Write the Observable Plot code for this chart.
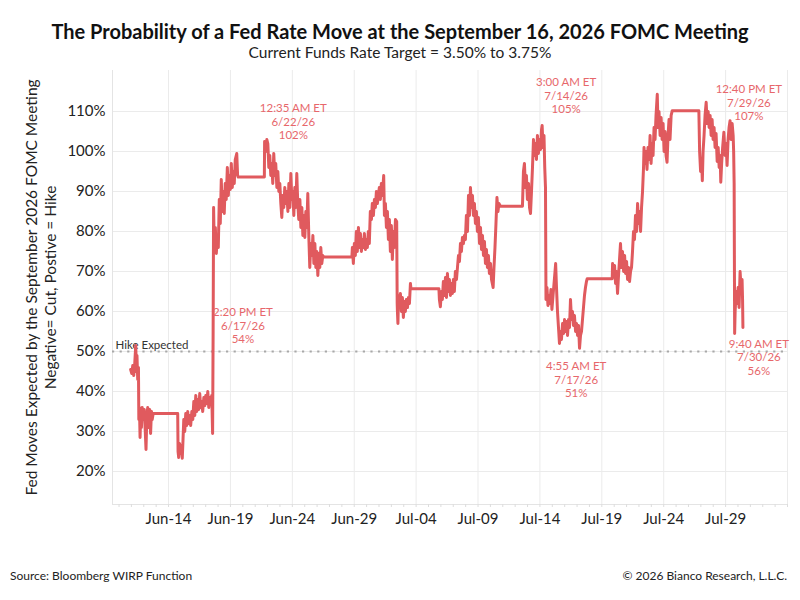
<!DOCTYPE html>
<html><head><meta charset="utf-8">
<script src="https://cdn.jsdelivr.net/npm/d3@7"></script>
<script src="https://cdn.jsdelivr.net/npm/@observablehq/plot@0.6"></script>
<style>
body{margin:0;background:#fff;font-family:Lato,sans-serif;}
#wrap{width:800px;height:600px;position:relative;overflow:hidden;}
#head{height:62px;text-align:center;}
#title{font-weight:bold;font-size:20px;padding-top:19px;line-height:24px;color:#111;}
#sub{font-size:15.5px;line-height:18px;color:#222;}
#chart svg{display:block;overflow:visible;}
#foot{display:flex;justify-content:space-between;padding:0 13px 0 10px;font-size:12px;line-height:14px;margin-top:29px;color:#222;}
</style></head>
<body><div id="wrap">
<div id="head"><div id="title">The Probability of a Fed Rate Move at the September 16, 2026 FOMC Meeting</div>
<div id="sub">Current Funds Rate Target = 3.50% to 3.75%</div></div>
<div id="chart"></div>
<div id="foot"><span>Source: Bloomberg WIRP Function</span><span>© 2026 Bianco Research, L.L.C.</span></div>
</div>
<script>
// time = day counted from June (June 1 = 1, July 1 = 31), fractional days
const times = [10.94,11.03,11.11,11.19,11.27,11.35,11.41,11.45,11.51,11.57,11.60,11.65,11.70,11.75,11.81,11.87,11.96,12.04,12.12,12.18,12.25,12.32,12.40,12.48,12.55,12.62,12.68,12.76,
14.74,14.77,14.82,14.89,14.95,15.03,15.11,15.17,15.23,15.31,15.39,15.47,15.55,15.63,15.71,15.79,15.88,15.96,16.04,16.12,16.20,16.28,16.36,16.44,16.52,16.60,16.68,16.76,16.85,16.93,17.01,17.09,17.17,17.25,17.33,17.41,17.49,17.56,
17.60,17.64,17.70,17.78,17.86,17.94,18.02,18.10,18.18,18.26,18.34,18.42,18.50,18.58,18.66,18.75,18.83,18.91,18.99,19.07,19.15,19.23,19.31,19.39,19.51,19.58,19.63,
21.74,21.76,21.86,21.94,22.02,22.10,22.18,22.26,22.34,22.42,22.50,22.58,22.66,22.75,22.83,22.91,22.99,23.07,23.15,23.23,23.31,23.39,23.47,23.55,23.64,23.72,23.80,23.88,23.96,24.04,24.12,24.20,24.28,24.36,24.44,24.52,24.61,24.69,24.77,24.85,24.93,25.01,25.09,25.17,25.25,25.33,25.41,25.49,25.58,25.66,25.74,25.82,25.90,25.98,26.06,26.14,26.22,26.30,26.38,26.46,26.55,
28.81,28.85,28.93,29.01,29.09,29.17,29.25,29.34,29.42,29.50,29.58,29.66,29.74,29.82,29.90,29.98,30.06,30.14,30.22,30.30,30.39,30.46,30.55,30.63,30.71,30.79,30.87,30.95,31.03,31.11,31.19,31.27,31.38,31.44,31.52,31.60,31.68,31.76,31.84,31.92,32.00,32.08,32.16,32.24,32.33,32.43,
32.47,32.49,32.53,32.58,32.65,32.73,32.81,32.89,32.97,33.05,33.13,33.21,33.30,33.38,33.46,33.54,33.58,
35.84,35.88,35.96,36.04,36.12,36.20,36.28,36.37,36.45,36.53,36.61,36.69,36.77,36.85,36.93,37.01,37.09,37.17,37.26,37.34,37.42,37.50,37.58,37.66,37.74,37.82,37.90,37.98,38.06,38.15,38.23,38.31,38.39,38.47,38.55,38.63,38.71,38.79,38.87,38.95,39.03,39.12,39.20,39.28,39.36,39.44,39.52,39.60,39.68,39.76,39.84,39.92,40.01,40.09,40.22,40.29,40.37,40.45,40.53,40.61,40.69,40.81,
42.59,42.67,42.75,42.83,42.91,42.99,43.08,43.16,43.24,43.32,43.40,43.48,43.56,43.64,43.72,43.80,43.88,43.97,44.05,44.13,44.18,44.25,44.33,44.39,44.45,
44.49,44.57,44.65,44.73,44.81,44.89,44.97,45.06,45.14,45.22,45.27,45.34,45.42,45.50,45.58,45.66,45.74,45.83,45.91,45.99,46.07,46.15,46.23,46.31,46.39,46.47,46.55,46.63,46.71,46.79,46.88,46.96,47.04,47.12,47.20,47.28,47.36,47.44,47.52,47.60,47.68,47.76,47.82,
49.84,49.87,49.95,50.03,50.11,50.19,50.27,50.35,50.43,50.51,50.59,50.67,50.76,50.84,50.92,51.00,51.08,51.16,51.24,51.32,51.40,51.48,51.56,51.64,51.72,51.81,51.89,51.97,52.05,52.13,52.21,52.29,52.37,52.41,52.49,52.57,52.65,52.73,52.82,52.90,52.98,53.06,53.14,53.22,53.30,53.38,53.48,53.54,53.62,53.71,53.79,53.87,53.95,54.03,54.11,54.19,54.27,54.35,54.43,54.51,54.60,54.69,
56.84,56.90,56.98,57.06,57.12,57.18,57.26,57.34,57.43,57.51,57.59,57.67,57.75,57.83,57.91,57.99,58.07,58.15,58.23,58.32,58.40,58.48,58.56,58.61,58.68,58.76,58.86,58.96,59.04,59.12,59.20,59.28,59.36,59.44,59.53,59.61,59.65,59.69,
59.73,59.77,59.85,59.93,60.01,60.09,60.17,60.25,60.33,60.37,60.40];
const probs = [45.5,44.5,46.5,44,47,51.5,45,49,43,46,33,36,28.5,34,31,36,33,35.5,30,25.5,34,36,31,35.5,29.5,35,33,34.5,
34.5,25,23.5,27,24.5,26.5,23.3,28,33,30,34.5,31.5,35,32,34,31.5,35,33,37.5,34,39,35,38,35.5,39.5,36,37.5,35,38.5,36.5,39,37,40,36,38.5,37.5,39,29.5,
54,86,75,81,74.5,79,76,88,82,93,85,90,84.5,92,88,96,89,94,90.5,97,91,95,92,98,99.5,94,93.6,
93.6,102.5,100,103,102,96,99,94,97,92,99.5,94,97,91,95,90,92,87,83.5,89,86,91,87,90,85,92,86,94.5,88,90,84,91,86,94.5,87,83,88,81,86,79,84,78.5,85,81,89.5,79,71,77,74,79,72,77,71,75,69,74.5,71,76,72,74,73.6,
73.6,76,72,77,74,80,75,81,76,79.5,75,78,76,79.5,75.5,78,76,80,77,85,83,87,84,88,86,90,87,89,91,88,92,89,94,84,87,81,85,78,83,75,81.5,73,80,76,83,82.5,
62,60,57,64,62,64.5,60,63.5,58.5,62.5,60,63,61,63.5,62,67,65.7,
65.7,63,61.2,65,63,67.5,64,68.5,63.5,69.5,65,68,64,67,64.5,68,65,70,68,71,74,72.5,77,75,78.5,77,79,78,84,80,89,84,91,86,89,84,87,82,85,80,83.5,77,81,75.5,79,74,77.5,72,75.5,71,74,69.5,72,68,66,71,76,82,88.5,85,87,86.3,
86.3,95,97,91,94,88,92,86,84.5,90,96,103,99,102,98,104,99.5,103,100.5,105.5,106.5,101,104,96,91,
63,66,61.5,64,62,65.5,60.5,64,67,70,72,66,60,56,52,55,53,57,54.5,58,55,57.5,54,58,56,63,58,60,56.5,59,55,57,54,56.5,50.8,54,55,58,61,64,66,67.5,68.2,
68.2,72,69,71.5,67,70,64.5,69,73,77,71,75,70,74,69.5,72.5,68,71,67.5,70,71,75,80,78,84,80,87,82,85,80,86,90,96,101,97,100,95.5,101,98,104,97,102,99,106,103,109,114.3,106,110,104,108.5,103,107,100,105,99,97.3,104,108,103,109,110.2,
110.2,100,95,98,92.7,100,104,109,112.3,107,110,106,109,104,108,103,106,101,104.5,97.5,101,96,99,92.3,97,101,104.8,99,102,96.5,103,106,107.7,103,107,104,100,92,
54.5,60,65,62,66,61,70,66,68,63,56];

const yTicks = [20,30,40,50,60,70,80,90,100,110];
const yTickLabels = ["20%","30%","40%","50%","60%","70%","80%","90%","100%","110%"];
const xTickDays = [14,19,24,29,34,39,44,49,54,59];
const xTickLabels = ["Jun-14","Jun-19","Jun-24","Jun-29","Jul-04","Jul-09","Jul-14","Jul-19","Jul-24","Jul-29"];
const xGridDays = [14,19,24,29,34,39,44,49,54,59,64];
const hikeLevel = 50;
const hikeLabel = "Hike Expected";
const annTimes = ["12:35 AM ET","2:20 PM ET","3:00 AM ET","12:40 PM ET","4:55 AM ET","9:40 AM ET"];
const annDates = ["6/22/26","6/17/26","7/14/26","7/29/26","7/17/26","7/30/26"];
const annPcts = ["102%","54%","105%","107%","51%","56%"];
const annX = [24.08,20.01,46.12,60.88,46.93,61.69];
const annY = [107.5,56.5,114,112.25,43,48.6];
const yTitle = "Fed Moves Expected by the September 2026 FOMC Meeting\nNegative= Cut, Postive = Hike";

const toDate = d => new Date(Date.UTC(2026,5,1) + (d-1)*86400000);
const series = times.map((t,i) => ({date: toDate(t), v: probs[i]}));
const xDomain = [toDate(9.473), toDate(64)];
const yDomain = [11.75, 120.25];
const dailyTicks = d3.utcDay.range(toDate(10), toDate(64.01));
const xTickDates = xTickDays.map(toDate);
const lineColor = "#e05a5e";
const annColor = "#e7676b";

const plot = Plot.plot({
  width: 800, height: 478,
  marginTop: 8, marginBottom: 36, marginLeft: 112, marginRight: 13,
  x: {type: "utc", domain: xDomain},
  y: {domain: yDomain},
  style: {fontFamily: "Lato, sans-serif", fontSize: "15px", color: "#222", background: "#fff"},
  marks: [
    Plot.gridY(yTicks, {stroke: "#ebebeb", strokeOpacity: 1}),
    Plot.gridX(xGridDays.map(toDate), {stroke: "#ebebeb", strokeOpacity: 1}),
    Plot.ruleX([xDomain[0]], {stroke: "#e4e4e4"}),
    Plot.ruleY([yDomain[0]], {stroke: "#e4e4e4"}),
    Plot.axisX(dailyTicks, {tickSize: 3, tickFormat: () => "", stroke: "#dddddd", label: null}),
    Plot.axisX(xTickDates, {tickSize: 0, tickPadding: 9, label: null, fontSize: 15, fill: "#222",
      tickFormat: d => xTickLabels[xTickDates.findIndex(t => +t === +d)]}),
    Plot.axisY(yTicks, {tickSize: 0, tickPadding: 7, label: null, fontSize: 15, fill: "#222",
      tickFormat: d => yTickLabels[yTicks.indexOf(d)]}),
    Plot.ruleY([hikeLevel], {stroke: "#a8a8a8", strokeWidth: 2, strokeDasharray: "2.2,5.4"}),
    Plot.text([hikeLabel], {x: () => xDomain[0], y: () => hikeLevel, text: d => d, textAnchor: "start",
      lineAnchor: "bottom", dx: 3, dy: -3, fontSize: 11.5, fill: "#333"}),
    Plot.line(series, {x: "date", y: "v", stroke: lineColor, strokeWidth: 3, strokeLinejoin: "round", strokeLinecap: "round"}),
    Plot.text(d3.range(annTimes.length), {x: i => toDate(annX[i]), y: i => annY[i],
      text: i => `${annTimes[i]}\n${annDates[i]}\n${annPcts[i]}`, lineHeight: 1.17, fontSize: 11.5,
      fill: annColor, textAnchor: "middle", lineAnchor: "middle"}),
    Plot.text([yTitle], {frameAnchor: "left", rotate: -90, dx: -72.5, text: d => d, textAnchor: "middle",
      lineAnchor: "middle", lineHeight: 1.22, fontSize: 15.5, fill: "#222"})
  ]
});
document.getElementById("chart").appendChild(plot);
</script>
</body></html>
